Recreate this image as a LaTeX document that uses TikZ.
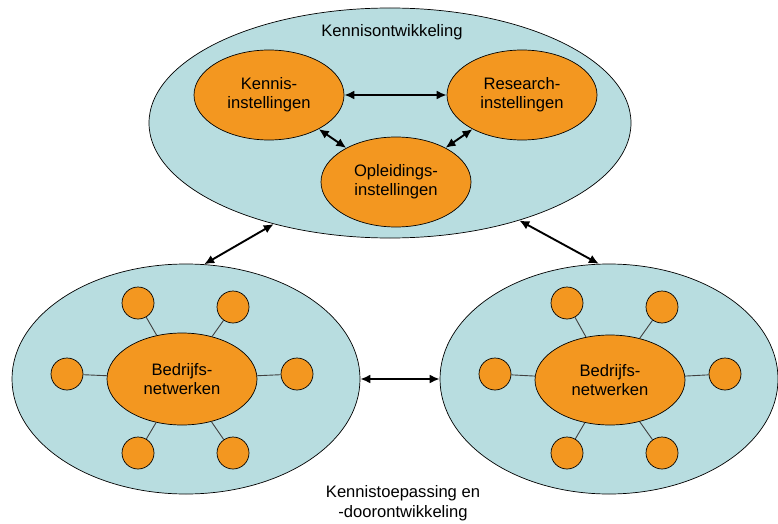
\documentclass[tikz,border=0pt]{standalone}
\usepackage{fontspec}
\setmainfont{Liberation Sans}
\usetikzlibrary{shapes.geometric,arrows.meta}
\definecolor{paleblue}{RGB}{184,221,224}
\definecolor{orangefill}{RGB}{243,151,32}
\tikzset{
  cluster/.style={ellipse,draw=black,line width=0.7pt,fill=paleblue,inner sep=0pt},
  institute/.style={ellipse,draw=black,line width=0.7pt,fill=orangefill,inner sep=0pt,
    minimum width=150pt,minimum height=90pt,align=center,
    font=\fontsize{16.6}{19}\selectfont},
  member/.style={circle,draw=black,line width=0.7pt,fill=orangefill,inner sep=0pt,minimum size=32pt},
  spoke/.style={draw=black!75,line width=0.9pt},
  link/.style={line width=1.9pt,{Latex[length=10pt,width=9pt]}-{Latex[length=10pt,width=9pt]}},
  caption/.style={align=center,font=\fontsize{16.6}{20}\selectfont}
}
\begin{document}
\begin{tikzpicture}[x=1pt,y=-1pt]
\useasboundingbox (0,0) rectangle (778,524);

% three clusters
\node[cluster,minimum width=482pt,minimum height=230pt] (top) at (390,123) {};
\node[cluster,minimum width=348pt,minimum height=230pt] (bl) at (186,379) {};
\node[cluster,minimum width=338pt,minimum height=230pt] (br) at (609,379) {};

\node[caption] (toplabel) at (392,32) {Kennisontwikkeling};
\node[caption] (bottomlabel) at (403,503) {Kennistoepassing en\\-doorontwikkeling};

% knowledge institutes
\node[institute] (ki) at (269,95) {Kennis-\\instellingen};
\node[institute] (ri) at (522,95) {Research-\\instellingen};
\node[institute] (oi) at (396,182) {Opleidings-\\instellingen};

\draw[link] (ki) -- (ri);
\draw[link] (ki) -- (oi);
\draw[link] (ri) -- (oi);

% left business network
\node[institute,minimum height=92pt] (bn1) at (182,379) {Bedrijfs-\\netwerken};
\foreach \n/\x/\y in {a/138/303, b/233/307, c/67/374, d/297/374, e/138/453, f/233/453}{
  \node[member] (bl-\n) at (\x,\y) {};
}

% right business network
\node[institute,minimum height=90pt] (bn2) at (610,380) {Bedrijfs-\\netwerken};
\foreach \n/\x/\y in {a/567/303, b/662/307, c/495/374, d/725/374, e/567/453, f/662/453}{
  \node[member] (br-\n) at (\x,\y) {};
}

% spokes between the member circles and the network hubs
\foreach \n in {a,b,c,d,e,f}{
  \draw[spoke] (bl-\n) -- (bn1);
  \draw[spoke] (br-\n) -- (bn2);
}

% links between clusters
\draw[link] (bl.81) -- (top.221);
\draw[link] (top.323) -- (br.95);
\draw[link] (bl.east) -- (br.west);
\end{tikzpicture}
\end{document}
